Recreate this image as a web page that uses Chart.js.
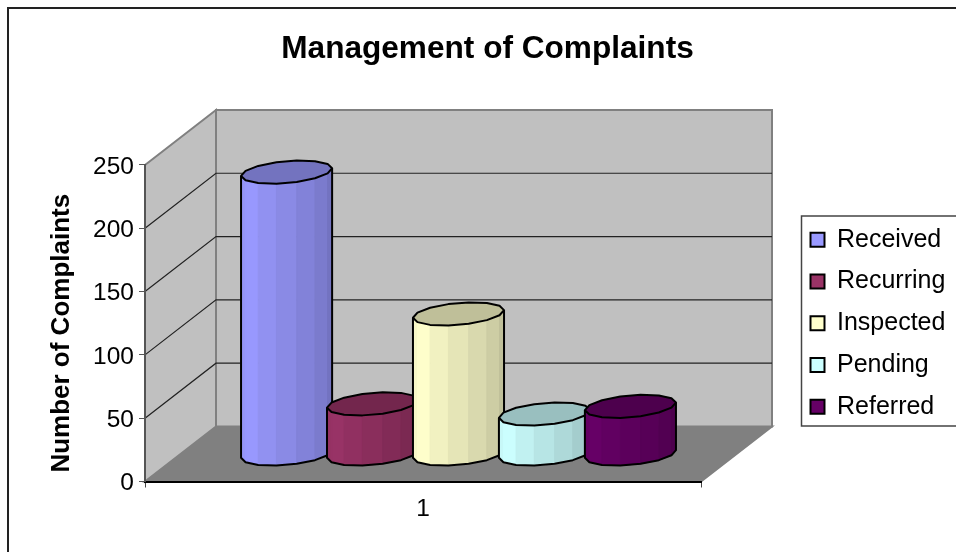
<!DOCTYPE html>
<html>
<head>
<meta charset="utf-8">
<title>Management of Complaints</title>
<script src="https://cdn.jsdelivr.net/npm/chart.js@4"></script>
<style>
    html, body { margin: 0; padding: 0; background: #fff; }
    canvas { display: block; }
</style>
</head>
<body>
<canvas id="graficoReclamacoes" width="956" height="552"></canvas>
<script>
const categories = ["1"];
const seriesNames = ["Received", "Recurring", "Inspected", "Pending", "Referred"];
const seriesValues = [223, 40, 111, 32, 38];
const seriesColors = ["#9999FF", "#993366", "#FFFFCC", "#CCFFFF", "#660066"];
const valueTicks = [0, 50, 100, 150, 200, 250];

const FONT = "'Liberation Sans', Arial, sans-serif";
// 3D box of the old Excel chart: how far the back wall sits from the front plane
const DEPTH_X = 71;
const DEPTH_Y = -55;

function shade(hex, m) {
    const n = parseInt(hex.slice(1), 16);
    const c = [n >> 16, (n >> 8) & 255, n & 255].map(v => Math.round(v * m));
    return "rgb(" + c.join(",") + ")";
}

function facetShade(f) {
    return f < 0.2 ? 0.96 + 0.2 * f : 1 - 0.27 * (f - 0.2) / 0.8;
}

function drawCylinder(ctx, bar, color) {
    const r = bar.width / 2;
    const cx = bar.x + DEPTH_X / 2;
    const topY = bar.y + DEPTH_Y / 2 + 0.5;
    const baseY = bar.base + DEPTH_Y / 2 + 0.5;
    const skewX = r * 0.35;
    const skewY = -r * 0.27;
    const steps = 7;
    const start = Math.PI + Math.atan2(skewX, r);

    const ring = (y) => {
        const pts = [];
        for (let i = 0; i < steps * 2; i++) {
            const t = start + i * Math.PI / steps;
            pts.push([cx + r * Math.cos(t) + skewX * Math.sin(t), y + skewY * Math.sin(t)]);
        }
        pts.push(pts[0]);
        return pts;
    };
    const top = ring(topY);
    const base = ring(baseY);

    // body strips, front half only
    for (let i = 0; i < steps; i++) {
        const fill = shade(color, facetShade((i + 0.5) / steps));
        ctx.beginPath();
        ctx.moveTo(top[i][0], top[i][1]);
        ctx.lineTo(top[i + 1][0], top[i + 1][1]);
        ctx.lineTo(base[i + 1][0], base[i + 1][1]);
        ctx.lineTo(base[i][0], base[i][1]);
        ctx.closePath();
        ctx.fillStyle = fill;
        ctx.strokeStyle = fill;
        ctx.lineWidth = 1;
        ctx.fill();
        ctx.stroke();
    }

    ctx.strokeStyle = "#000";
    ctx.lineWidth = 2;
    ctx.lineJoin = "round";

    // side and bottom outline
    ctx.beginPath();
    ctx.moveTo(top[0][0], top[0][1]);
    for (let i = 0; i <= steps; i++) ctx.lineTo(base[i][0], base[i][1]);
    ctx.lineTo(top[steps][0], top[steps][1]);
    ctx.stroke();

    // lid
    ctx.beginPath();
    top.forEach((p, i) => i ? ctx.lineTo(p[0], p[1]) : ctx.moveTo(p[0], p[1]));
    ctx.closePath();
    ctx.fillStyle = shade(color, 0.75);
    ctx.fill();
    ctx.stroke();
}

const caixa3d = {
    id: "caixa3d",
    afterLayout(chart) {
        // legend and title do not follow the default layout in this picture
        const legend = chart.legend;
        const w = legend.width;
        const h = legend.height;
        legend.left = 793.75;
        legend.right = 793.75 + w;
        legend.top = 210.5;
        legend.bottom = 210.5 + h;
        chart.titleBlock.left = 0;
        chart.titleBlock.right = 975;

        // axis title sits lower than the middle of the axis
        const y = chart.scales.y;
        const drawTitle = y.drawTitle;
        y.drawTitle = function () {
            chart.ctx.save();
            chart.ctx.translate(0, 10);
            drawTitle.call(this);
            chart.ctx.restore();
        };
    },
    beforeDraw(chart) {
        const ctx = chart.ctx;
        const { left, right, bottom } = chart.chartArea;
        const y = chart.scales.y;
        const topY = y.getPixelForValue(y.max);
        const poly = (pts) => {
            ctx.beginPath();
            pts.forEach((p, i) => i ? ctx.lineTo(p[0], p[1]) : ctx.moveTo(p[0], p[1]));
            ctx.closePath();
        };

        ctx.save();

        // floor
        poly([[left, bottom], [right, bottom], [right + DEPTH_X, bottom + DEPTH_Y], [left + DEPTH_X, bottom + DEPTH_Y]]);
        ctx.fillStyle = "#808080";
        ctx.fill();
        ctx.strokeStyle = "#808080";
        ctx.lineWidth = 2;
        ctx.stroke();

        // side wall and back wall
        poly([[left, topY], [left + DEPTH_X, topY + DEPTH_Y], [left + DEPTH_X, bottom + DEPTH_Y], [left, bottom]]);
        ctx.fillStyle = "#C0C0C0";
        ctx.fill();
        ctx.stroke();
        poly([[left + DEPTH_X, topY + DEPTH_Y], [right + DEPTH_X, topY + DEPTH_Y], [right + DEPTH_X, bottom + DEPTH_Y], [left + DEPTH_X, bottom + DEPTH_Y]]);
        ctx.fill();
        ctx.stroke();

        // gridlines, bent round the corner of the box
        ctx.strokeStyle = "#222";
        ctx.lineWidth = 1.2;
        valueTicks.slice(1, -1).forEach(v => {
            const py = y.getPixelForValue(v);
            ctx.beginPath();
            ctx.moveTo(left, py);
            ctx.lineTo(left + DEPTH_X, py + DEPTH_Y);
            ctx.lineTo(right + DEPTH_X, py + DEPTH_Y);
            ctx.stroke();
        });

        // chart frame, only top and left fall inside the crop
        ctx.strokeStyle = "#222";
        ctx.lineWidth = 2;
        ctx.beginPath();
        ctx.moveTo(956, 8);
        ctx.lineTo(8, 8);
        ctx.lineTo(8, 552);
        ctx.stroke();

        // legend frame
        ctx.strokeStyle = "#444";
        ctx.lineWidth = 1.5;
        ctx.beginPath();
        ctx.moveTo(958, 216);
        ctx.lineTo(801.5, 216);
        ctx.lineTo(801.5, 426);
        ctx.lineTo(958, 426);
        ctx.stroke();

        ctx.restore();
    },
    beforeDatasetsDraw(chart) {
        // cylinders in dataset order so each one covers the one before
        chart.data.datasets.forEach((ds, i) => {
            const bar = chart.getDatasetMeta(i).data[0];
            drawCylinder(chart.ctx, bar, ds.backgroundColor);
        });
        return false;
    }
};

new Chart(document.getElementById("graficoReclamacoes").getContext("2d"), {
    type: "bar",
    data: {
        labels: categories,
        datasets: seriesNames.map((name, i) => ({
            label: name,
            data: [seriesValues[i]],
            backgroundColor: seriesColors[i],
            borderColor: "#000",
            borderWidth: 2
        }))
    },
    options: {
        responsive: false,
        animation: false,
        layout: { padding: { left: 0, right: 255, top: 0, bottom: 0 } },
        datasets: { bar: { barPercentage: 1, categoryPercentage: 0.773 } },
        scales: {
            x: {
                afterFit: scale => { scale.height = 70.5; },
                border: { color: "#000", width: 2 },
                grid: { drawOnChartArea: false, color: "#444", tickLength: 6 },
                ticks: { color: "#000", padding: 7.5, font: { family: FONT, size: 24.5 } }
            },
            y: {
                min: 0,
                max: 250,
                afterFit: scale => { scale.width = 145; },
                border: { color: "#555", width: 2 },
                grid: { drawOnChartArea: false, color: "#555", tickLength: 6 },
                ticks: { stepSize: 50, color: "#000", padding: 5, labelOffset: 2, font: { family: FONT, size: 24.5 } },
                title: {
                    display: true,
                    text: "Number of Complaints",
                    color: "#000",
                    padding: { top: 46, bottom: 0 },
                    font: { family: FONT, size: 26, weight: "bold" }
                }
            }
        },
        plugins: {
            title: {
                display: true,
                text: "Management of Complaints",
                color: "#000",
                padding: { top: 30, bottom: 97 },
                font: { family: FONT, size: 31.6, weight: "bold" }
            },
            legend: {
                position: "chartArea",
                align: "start",
                labels: {
                    color: "#000",
                    boxWidth: 14,
                    boxHeight: 14,
                    padding: 16.75,
                    font: { family: FONT, size: 25 }
                }
            },
            tooltip: { enabled: false }
        }
    },
    plugins: [caixa3d]
});
</script>
</body>
</html>
